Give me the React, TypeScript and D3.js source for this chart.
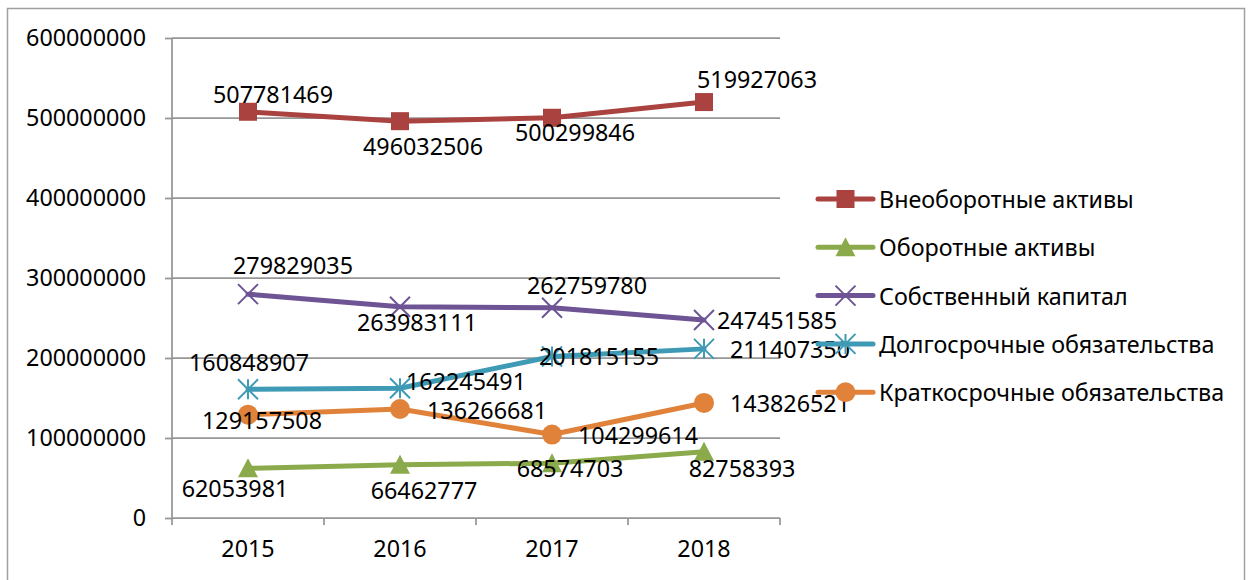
import React, { useEffect, useRef } from "react";
import * as d3 from "d3";

const years = ["2015", "2016", "2017", "2018"];
const yTicks = [0, 100000000, 200000000, 300000000, 400000000, 500000000, 600000000];

const seriesNames = [
  "Внеоборотные активы",
  "Оборотные активы",
  "Собственный капитал",
  "Долгосрочные обязательства",
  "Краткосрочные обязательства",
];
const nonCurrentAssets = [507781469, 496032506, 500299846, 519927063];
const currentAssets = [62053981, 66462777, 68574703, 82758393];
const equity = [279829035, 263983111, 262759780, 247451585];
const longTermDebt = [160848907, 162245491, 201815155, 211407350];
const shortTermDebt = [129157508, 136266681, 104299614, 143826521];

const colors = ["#AA4340", "#8BAA4B", "#6E5494", "#3F9AB5", "#E0823A"];
const markers = ["square", "triangle", "x", "star", "circle"];

// where each data label sits, relative to its point (label centre)
const labelOffsets = [
  [[25, -18], [23, 25], [23, 14], [53, -23]],
  [[-13, 20], [24, 25], [18, 5], [38, 16]],
  [[45, -29], [17, 15], [35, -23], [73, 0]],
  [[1, -27], [66, -7], [47, -1], [86, 0]],
  [[14, 5], [87, 1], [86, 0], [86, 0]],
];

const FONT = "'Noto Sans', sans-serif";
const FS = 23.3;

function drawMarker(g, type, cx, cy, color) {
  if (type === "square") {
    g.append("rect").attr("x", cx - 9).attr("y", cy - 9).attr("width", 18).attr("height", 18).attr("fill", color);
  } else if (type === "triangle") {
    g.append("path").attr("d", `M${cx},${cy - 10}L${cx + 10},${cy + 9}L${cx - 10},${cy + 9}Z`).attr("fill", color);
  } else if (type === "circle") {
    g.append("circle").attr("cx", cx).attr("cy", cy).attr("r", 10).attr("fill", color);
  } else {
    const s = 10;
    const p = `M${cx - s},${cy - s}L${cx + s},${cy + s}M${cx - s},${cy + s}L${cx + s},${cy - s}` +
      (type === "star" ? `M${cx},${cy - s}L${cx},${cy + s}` : "");
    g.append("path").attr("d", p).attr("stroke", color).attr("stroke-width", 2).attr("fill", "none");
  }
}

export default function App() {
  const ref = useRef(null);

  useEffect(() => {
    const svg = d3.select(ref.current);
    svg.selectAll("*").remove();
    const data = [nonCurrentAssets, currentAssets, equity, longTermDebt, shortTermDebt];

    const x = d3.scaleBand().domain(years).range([172, 780]).padding(0);
    const y = d3.scaleLinear().domain([0, 600000000]).range([518, 38]);
    const cx = (d) => x(d) + x.bandwidth() / 2;

    svg.append("rect").attr("x", 7.5).attr("y", 8.5).attr("width", 1237).attr("height", 620)
      .attr("fill", "#fff").attr("stroke", "#a0a0a0").attr("stroke-width", 1.5);

    // gridlines
    svg.append("g").selectAll("line").data(yTicks.slice(1)).join("line")
      .attr("x1", 172).attr("x2", 780).attr("y1", (d) => y(d)).attr("y2", (d) => y(d))
      .attr("stroke", "#969696").attr("stroke-width", 1.75);

    const yAxis = d3.axisLeft(y).tickValues(yTicks).tickSize(7).tickPadding(19).tickFormat(d3.format("d"));
    const ya = svg.append("g").attr("transform", "translate(172,0)").call(yAxis);
    ya.selectAll("line").attr("stroke", "#969696").attr("stroke-width", 1.75);
    ya.select(".domain").attr("stroke", "#969696").attr("stroke-width", 1.75).attr("d", "M0,38V518");
    ya.selectAll("text").attr("font-family", FONT).attr("font-size", FS).attr("fill", "#000");

    const xAxis = d3.axisBottom(x).tickSize(0).tickPadding(22);
    const xa = svg.append("g").attr("transform", "translate(0,518)").call(xAxis);
    xa.select(".domain").attr("stroke", "#969696").attr("stroke-width", 1.75).attr("d", "M172,0H780");
    xa.selectAll("text").attr("font-family", FONT).attr("font-size", FS).attr("fill", "#000");
    svg.append("g").selectAll("line").data(years.concat(["end"])).join("line")
      .attr("x1", (d, i) => 172 + i * x.bandwidth()).attr("x2", (d, i) => 172 + i * x.bandwidth())
      .attr("y1", 518).attr("y2", 525).attr("stroke", "#969696").attr("stroke-width", 1.75);

    const line = d3.line().x((d, i) => cx(years[i])).y((d) => y(d));

    data.forEach((vals, s) => {
      const g = svg.append("g");
      g.append("path").attr("d", line(vals)).attr("fill", "none")
        .attr("stroke", colors[s]).attr("stroke-width", 5).attr("stroke-linejoin", "round").attr("stroke-linecap", "round");
      vals.forEach((v, i) => drawMarker(g, markers[s], cx(years[i]), y(v), colors[s]));
    });

    const lbl = svg.append("g").attr("font-family", FONT).attr("font-size", FS).attr("fill", "#000")
      .attr("text-anchor", "middle").attr("dominant-baseline", "central");
    data.forEach((vals, s) => {
      vals.forEach((v, i) => {
        lbl.append("text")
          .attr("x", cx(years[i]) + labelOffsets[s][i][0])
          .attr("y", y(v) + labelOffsets[s][i][1])
          .text(String(v));
      });
    });

    const legend = svg.append("g");
    seriesNames.forEach((name, s) => {
      const ly = 199 + s * 48.3;
      legend.append("line").attr("x1", 818).attr("x2", 873).attr("y1", ly).attr("y2", ly)
        .attr("stroke", colors[s]).attr("stroke-width", 5).attr("stroke-linecap", "round");
      drawMarker(legend, markers[s], 845.5, ly, colors[s]);
      legend.append("text").attr("x", 879).attr("y", ly).attr("dominant-baseline", "central")
        .attr("font-family", FONT).attr("font-size", FS).attr("fill", "#000").text(name);
    });
  }, []);

  return (
    <svg ref={ref} width={1248} height={580} style={{ position: "absolute", left: 0, top: 0 }} />
  );
}
